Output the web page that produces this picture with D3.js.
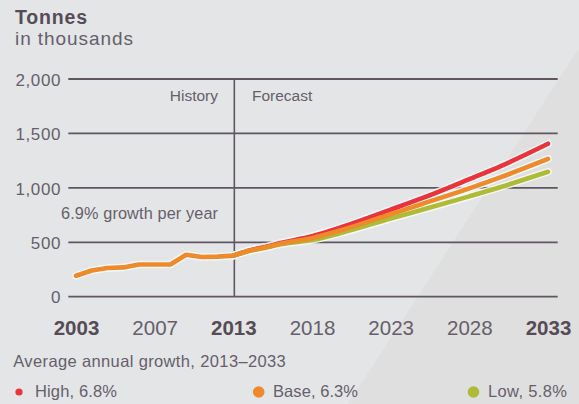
<!DOCTYPE html>
<html><head><meta charset="utf-8">
<script src="https://cdn.jsdelivr.net/npm/d3@7"></script>
<style>
html,body{margin:0;padding:0;background:#e4e5e6;}
svg{display:block;}
text{font-family:"Liberation Sans",Arial,sans-serif;}
</style></head>
<body>
<script>
// ---- data ----
const historyYears = [2003,2004,2005,2006,2007,2008,2009,2010,2011,2012,2013];
const historyValues = [192,241,263,269,296,296,296,386,365,368,377];
const forecastYears = [2013,2014,2015,2016,2018,2020,2023,2025,2028,2030,2033];
const highValues = [377,425,457,494,556,645,800,905,1080,1200,1405];
const baseValues = [377,422,452,487,538,617,758,852,995,1098,1266];
const lowValues  = [377,420,448,481,520,591,718,798,922,1008,1148];
const xTickValues = [2003,2008,2013,2018,2023,2028,2033];
const xTickLabels = ["2003","2007","2013","2018","2023","2028","2033"];
const xTickBold = [true,false,true,false,false,false,true];
const yTickValues = [0,500,1000,1500,2000];
const legendNames = ["High, 6.8%","Base, 6.3%","Low, 5.8%"];
const seriesColors = ["#ea343b","#ec8a2c","#adbb37"];

const W=579,H=404;
const svg=d3.select("body").append("svg").attr("width",W).attr("height",H);
svg.append("rect").attr("width",W).attr("height",H).attr("fill","#e4e5e6");
svg.append("polygon").attr("points","579,48 348,404 579,404").attr("fill","#dfdfdf");

const x=d3.scaleLinear().domain([2003,2033]).range([76,548]);
const y=d3.scaleLinear().domain([0,2000]).range([296.7,79]);

const dark="#554c58", mid="#665f6b";
const light="Liberation Sans, Arial, sans-serif";

// title
svg.append("text").attr("x",15).attr("y",23.5).attr("font-size",19.5).attr("font-weight","bold").attr("fill",dark)
  .attr("textLength",72).attr("lengthAdjust","spacing").text("Tonnes");
svg.append("text").attr("x",15).attr("y",45).attr("font-size",19).attr("font-family",light).attr("fill",mid)
  .attr("textLength",118).attr("lengthAdjust","spacing").text("in thousands");

// y grid + labels
const yAxis=d3.axisLeft(y).tickValues(yTickValues).tickFormat(d3.format(",")).tickSize(0).tickPadding(0);
const gy=svg.append("g").attr("transform","translate(61,0)").call(yAxis);
gy.select(".domain").remove();
gy.selectAll("text").attr("font-size",17).attr("letter-spacing",0.6).attr("fill",mid).attr("font-family",light).attr("dy","0.37em");
svg.append("g").selectAll("line").data(yTickValues).join("line")
  .attr("x1",68.3).attr("x2",557.7).attr("y1",d=>y(d)).attr("y2",d=>y(d))
  .attr("stroke","#5f5662").attr("stroke-width",1.8);

// history/forecast divider
svg.append("line").attr("x1",x(2013)+1).attr("x2",x(2013)+1).attr("y1",y(2000)).attr("y2",y(0)).attr("stroke","#5f5662").attr("stroke-width",1.6);
svg.append("text").attr("x",218).attr("y",100.7).attr("text-anchor","end").attr("font-size",15.5).attr("font-family",light).attr("fill",mid).text("History");
svg.append("text").attr("x",252).attr("y",100.7).attr("font-size",15.5).attr("font-family",light).attr("fill",mid).text("Forecast");
svg.append("text").attr("x",61).attr("y",219.3).attr("font-size",16.3).attr("font-family",light).attr("fill",mid)
  .attr("textLength",157).attr("lengthAdjust","spacing").text("6.9% growth per year");

// x axis labels
const xAxis=d3.axisBottom(x).tickValues(xTickValues).tickFormat((d,i)=>xTickLabels[i]).tickSize(0).tickPadding(0);
const gx=svg.append("g").attr("transform","translate(0,320)").call(xAxis);
gx.select(".domain").remove();
gx.selectAll("text")
  .attr("font-size",20.5).attr("dy","0.72em")
  .attr("font-family",light)
  .attr("font-weight",(d,i)=>xTickBold[i]?"bold":"normal")
  .attr("fill",(d,i)=>xTickBold[i]?dark:mid);

// lines
const lineF=d3.line().x(d=>x(d[0])).y(d=>y(d[1])).curve(d3.curveMonotoneX);
const lineH=d3.line().x(d=>x(d[0])).y(d=>y(d[1]));
const series=[
  {vals:highValues,color:seriesColors[0]},
  {vals:lowValues,color:seriesColors[2]},
  {vals:baseValues,color:seriesColors[1]}
];
const histData=historyYears.map((d,i)=>[d,historyValues[i]]);
const halo=svg.append("g");
const lines=svg.append("g");
series.forEach(s=>{
  const data=forecastYears.map((d,i)=>[d,s.vals[i]]);
  halo.append("path").attr("d",lineF(data)).attr("fill","none").attr("stroke","#fbfbfb").attr("stroke-opacity",0.85).attr("stroke-width",7.5).attr("stroke-linecap","round").attr("stroke-linejoin","round");
});
halo.append("path").attr("d",lineH(histData)).attr("fill","none").attr("stroke","#fbfbfb").attr("stroke-opacity",0.85).attr("stroke-width",7.5).attr("stroke-linecap","round").attr("stroke-linejoin","round");
series.forEach(s=>{
  const data=forecastYears.map((d,i)=>[d,s.vals[i]]);
  lines.append("path").attr("d",lineF(data)).attr("fill","none").attr("stroke",s.color).attr("stroke-width",4.6).attr("stroke-linecap","round").attr("stroke-linejoin","round");
});
lines.append("path").attr("d",lineH(histData)).attr("fill","none").attr("stroke",seriesColors[1]).attr("stroke-width",4.6).attr("stroke-linecap","round").attr("stroke-linejoin","round");

// legend
const legFont="Liberation Sans, Arial, sans-serif";
svg.append("text").attr("x",13.3).attr("y",367).attr("font-size",16.5).attr("font-family",legFont).attr("fill",mid)
  .attr("textLength",272.5).attr("lengthAdjust","spacing").text("Average annual growth, 2013\u20132033");
const legX=[19,258.7,473.5], legTX=[35,273,488], legW=[82,85,79], legR=[3.6,5.8,5.8];
legendNames.forEach((n,i)=>{
  svg.append("circle").attr("cx",legX[i]).attr("cy",392).attr("r",legR[i]).attr("fill",seriesColors[i]);
  svg.append("text").attr("x",legTX[i]).attr("y",397.3).attr("font-size",16.5).attr("font-family",legFont).attr("fill",mid)
    .attr("textLength",legW[i]).attr("lengthAdjust","spacing").text(n);
});
</script>
</body></html>
